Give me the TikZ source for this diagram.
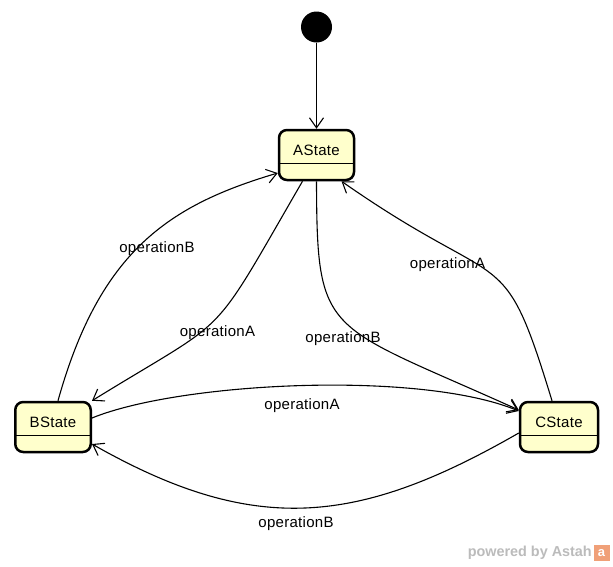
\documentclass[tikz,border=0pt]{standalone}
\usepackage{fontspec}
\newfontfamily\diagfont[LetterSpace=2]{Liberation Sans}
\newfontfamily\wmfont{Liberation Sans}
\usetikzlibrary{arrows.meta}
\definecolor{statefill}{HTML}{FFFFCC}
\definecolor{wmgray}{HTML}{BBBBBB}
\definecolor{wmorange}{HTML}{F0A078}
\begin{document}
\begin{tikzpicture}[x=1pt,y=-1pt,
  statebox/.style={draw, line width=2.5pt, rounded corners=8pt, fill=statefill,
    minimum height=50pt, inner sep=0pt},
  stname/.style={font=\diagfont\fontsize{15}{17}\selectfont, inner sep=0pt},
  elabel/.style={font=\diagfont\fontsize{15}{17}\selectfont, inner sep=0pt},
  trans/.style={line width=1.1pt, -{Straight Barb[length=10pt,width=14pt]}},
  divider/.style={line width=1pt},
]
\useasboundingbox (0,0) rectangle (613,566);

% initial pseudo-state
\node[circle, fill=black, minimum size=31pt, inner sep=0pt] (init) at (316.5,27) {};

% states
\node[statebox, minimum width=75pt] (A) at (316.5,155) {};
\node[stname] (At) at (316.5,150.5) {AState};
\coordinate (Ad) at (0,163);
\draw[divider] (A.west |- Ad) -- (A.east |- Ad);

\node[statebox, minimum width=75.5pt] (B) at (53,427) {};
\node[stname] (Bt) at (53,422.5) {BState};
\coordinate (Bd) at (0,435);
\draw[divider] (B.west |- Bd) -- (B.east |- Bd);

\node[statebox, minimum width=78pt] (C) at (559,427) {};
\node[stname] (Ct) at (559,422.5) {CState};
\draw[divider] (C.west |- Bd) -- (C.east |- Bd);

% transitions
\draw[trans] (init) -- (A);
\draw[trans] ([xshift=5pt]B.north) .. controls (100,250) and (170,205) .. ([yshift=-18pt]A.west);
\draw[trans] ([xshift=-14pt]A.south) .. controls (207,346) and (234,313) .. (B.north east);
\draw[trans] (A.south) .. controls (317,339) and (324,322) .. ([yshift=17pt]C.west);
\draw[trans] ([xshift=-7pt]C.north) .. controls (502,237) and (507,297) .. ([xshift=25pt]A.south);
\draw[trans] ([yshift=9pt]B.east) .. controls (180,382) and (420,370) .. ([yshift=16pt]C.west);
\draw[trans] ([yshift=-6pt]C.west) .. controls (357,526) and (254,536) .. ([yshift=-17pt]B.east);

% labels
\node[elabel] (l1) at (157,248.5) {operationB};
\node[elabel] (l2) at (217.5,332.5) {operationA};
\node[elabel] (l3) at (343,338.5) {operationB};
\node[elabel] (l4) at (447.5,264.5) {operationA};
\node[elabel] (l5) at (302,405.5) {operationA};
\node[elabel] (l6) at (296,523.5) {operationB};

% watermark
\node[font=\wmfont\bfseries\fontsize{14.4}{16}\selectfont, text=wmgray, anchor=east, inner sep=0pt] (wm) at (592,553) {powered by Astah};
\node[fill=wmorange, minimum size=16pt, inner sep=0pt, text=white,
  font=\wmfont\bfseries\fontsize{13}{14}\selectfont] (logo) at (601.5,553) {a};
\end{tikzpicture}
\end{document}
